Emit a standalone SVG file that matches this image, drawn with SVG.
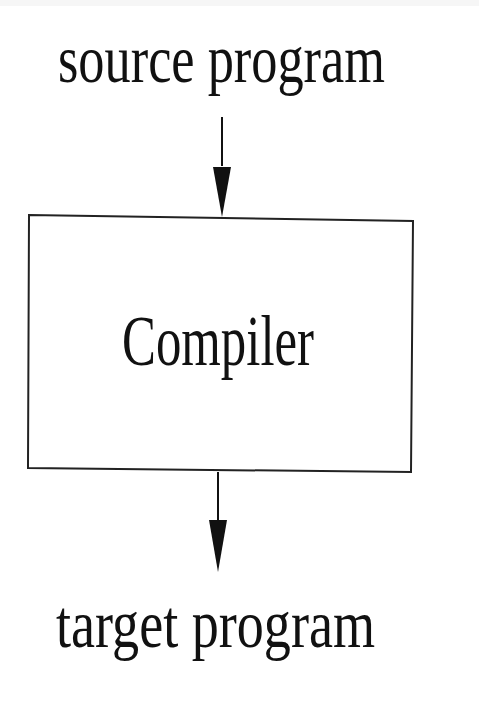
<svg xmlns="http://www.w3.org/2000/svg" width="479" height="717" viewBox="0 0 479 717">
<style>
.t{font-family:"Liberation Serif","DejaVu Serif",serif;fill:#111;}
.ln{stroke:#111;stroke-width:2;fill:none;}
.box{stroke:#222;stroke-width:2;fill:#fff;}
.ah{fill:#111;}
</style>
<rect x="0" y="0" width="479" height="6" fill="#f6f6f6"/>
<g id="source">
<text class="t" transform="translate(58,82) scale(1,1.3)" x="0" y="0" font-size="52" textLength="327" lengthAdjust="spacingAndGlyphs">source program</text>
</g>
<g id="compiler">
<polygon class="box" points="29,215 413,221 411,472 28,468"/>
<text class="t" transform="translate(122,365) scale(1,1.4)" x="0" y="0" font-size="51" textLength="192" lengthAdjust="spacingAndGlyphs">Compiler</text>
</g>
<g id="target">
<text class="t" transform="translate(56,647) scale(1,1.3)" x="0" y="0" font-size="52" textLength="319" lengthAdjust="spacingAndGlyphs">target program</text>
</g>
<g id="connectors">
<line class="ln" x1="222" y1="117" x2="222" y2="166"/>
<path class="ah" d="M213,167 L231,167 L222,217 Z"/>
<line class="ln" x1="218" y1="472" x2="218" y2="521"/>
<path class="ah" d="M209,520 L227,520 L218,572 Z"/>
</g>
</svg>
